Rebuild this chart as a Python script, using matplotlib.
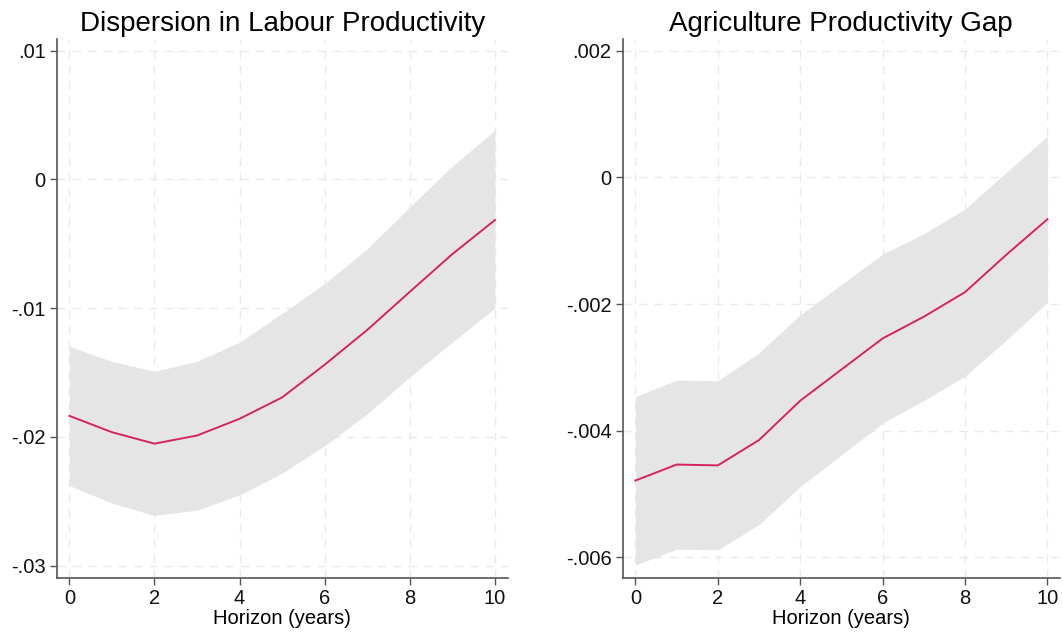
import matplotlib
matplotlib.use("Agg")
import matplotlib.pyplot as plt

horizon = [0, 1, 2, 3, 4, 5, 6, 7, 8, 9, 10]

disp_est = [-0.01836, -0.01963, -0.02052, -0.01989, -0.01859, -0.01693,
            -0.01439, -0.01169, -0.00873, -0.00580, -0.00316]
disp_hi = [-0.01296, -0.01413, -0.01490, -0.01413, -0.01264, -0.01041,
           -0.00809, -0.00539, -0.00215, 0.00103, 0.00380]
disp_lo = [-0.02377, -0.02514, -0.02609, -0.02568, -0.02450, -0.02281,
           -0.02068, -0.01820, -0.01534, -0.01264, -0.01000]

agri_est = [-0.004786, -0.004534, -0.004547, -0.004146, -0.003525, -0.003033,
            -0.002542, -0.002199, -0.001811, -0.001222, -0.000660]
agri_hi = [-0.00346, -0.00320, -0.00321, -0.00277, -0.00217, -0.00169,
           -0.00121, -0.00089, -0.00050, 0.00008, 0.00065]
agri_lo = [-0.00612, -0.00587, -0.00588, -0.00548, -0.00488, -0.00438,
           -0.00388, -0.00352, -0.00314, -0.00257, -0.00197]

titles = ["Dispersion in Labour Productivity", "Agriculture Productivity Gap"]
xlabel = "Horizon (years)"
x_ticks = [0, 2, 4, 6, 8, 10]
disp_yticks = [0.01, 0.0, -0.01, -0.02, -0.03]
disp_ylabels = [".01", "0", "-.01", "-.02", "-.03"]
agri_yticks = [0.002, 0.0, -0.002, -0.004, -0.006]
agri_ylabels = [".002", "0", "-.002", "-.004", "-.006"]

plt.rcParams['font.family'] = ['Liberation Sans', 'DejaVu Sans']

fig = plt.figure(figsize=(10.63, 6.42), dpi=100)
ax1 = fig.add_axes([0.0536, 0.0997, 0.424, 0.8396])
ax2 = fig.add_axes([0.5858, 0.0997, 0.4112, 0.8396])

panels = [
    (ax1, disp_est, disp_lo, disp_hi, disp_yticks, disp_ylabels, (-0.03095, 0.0109), (-0.29, 10.3)),
    (ax2, agri_est, agri_lo, agri_hi, agri_yticks, agri_ylabels, (-0.006325, 0.002186), (-0.31, 10.3)),
]

for i, (ax, est, lo, hi, yt, yl, ylim, xlim) in enumerate(panels):
    ax.fill_between(horizon, lo, hi, color='#e5e5e5', linewidth=0, zorder=1)
    ax.plot(horizon, est, color='#d6245a', linewidth=1.4, zorder=3)
    ax.set_xticks(x_ticks)
    ax.set_yticks(yt)
    ax.set_yticklabels(yl)
    ax.set_ylim(*ylim)
    ax.set_xlim(*xlim)
    ax.grid(True, color='#eaeaea', linestyle=(0, (6, 5)), linewidth=1.0, zorder=0)
    ax.set_axisbelow(True)
    for s in ['top', 'right']:
        ax.spines[s].set_visible(False)
    for s in ['left', 'bottom']:
        ax.spines[s].set_color('#555555')
        ax.spines[s].set_linewidth(1.2)
    ax.tick_params(axis='both', direction='out', length=5, width=1.0,
                   color='#555555', labelsize=14.5, labelcolor='#111111', pad=3)
    ax.set_title(titles[i], fontsize=20, pad=6)
    ax.set_xlabel(xlabel, fontsize=14.5, labelpad=1)

fig.savefig("out.png", dpi=100)
